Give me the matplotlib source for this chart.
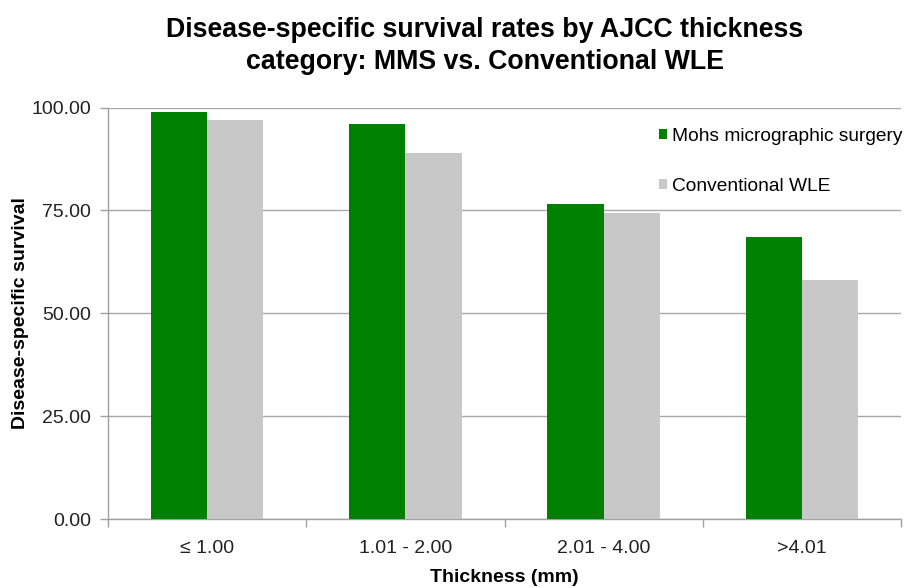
import matplotlib
matplotlib.use("Agg")
import matplotlib.pyplot as plt
import numpy as np

categories = ["\u2264 1.00", "1.01 - 2.00", "2.01 - 4.00", ">4.01"]
mohs = [98.8, 95.9, 76.5, 68.6]
wle = [97.0, 88.9, 74.3, 58.1]
series_names = ["Mohs micrographic surgery", "Conventional WLE"]
yticks = [0, 25, 50, 75, 100]

plt.rcParams['font.family'] = ['Liberation Sans', 'DejaVu Sans']

fig = plt.figure(figsize=(9.05, 5.88), dpi=100)
ax = fig.add_axes([108/905, (588-519)/588, (901-108)/905, (519-107.5)/588])

x = np.arange(len(categories))
w = 0.284
ax.bar(x - w/2, mohs, width=w, color="#008000", label=series_names[0], zorder=3)
ax.bar(x + w/2, wle, width=w, color="#C8C8C8", label=series_names[1], zorder=3)

ax.set_xlim(-0.5, len(categories) - 0.5)
ax.set_ylim(0, 100)
ax.set_yticks(yticks)
ax.set_yticklabels([f"{v:.2f}" for v in yticks])
ax.yaxis.grid(True, color="#A8A8A8", linewidth=1.0, zorder=0)
ax.set_axisbelow(True)

ax.set_xticks(x)
ax.set_xticklabels(categories)
ax.set_xticks(np.arange(-0.5, len(categories)), minor=True)
ax.tick_params(axis='x', which='major', length=0, pad=15, labelsize=14, colors='#222222')
ax.tick_params(axis='x', which='minor', length=6, color='#A0A0A0', width=1)
ax.tick_params(axis='y', which='major', length=6, color='#A0A0A0', width=1, pad=6, labelsize=14, labelcolor='#222222')

for s in ['top', 'right']:
    ax.spines[s].set_visible(False)
for s in ['left', 'bottom']:
    ax.spines[s].set_color('#A0A0A0')
    ax.spines[s].set_linewidth(1.0)

ax.set_xlabel("Thickness (mm)", fontsize=14, fontweight='bold')
ax.xaxis.set_label_coords(0.5, (519 - 578) / 411.5)
ax.xaxis.label.set_va('center')
ax.set_ylabel("Disease-specific survival", fontsize=14, fontweight='bold')
ax.yaxis.set_label_coords((21 - 108) / 793, 0.5)
ax.yaxis.label.set_va('center')

fig.text(485/905, 1 - 46/588, "Disease-specific survival rates by AJCC thickness\ncategory: MMS vs. Conventional WLE",
         ha='center', va='center', fontsize=19.3, fontweight='bold', linespacing=1.3)

leg = ax.legend(loc='upper right', bbox_to_anchor=(1.024, 0.993), frameon=False, fontsize=13.8,
                handlelength=0.45, handleheight=0.45, handletextpad=0.25, labelspacing=1.75)

fig.savefig("out.png", dpi=100)
